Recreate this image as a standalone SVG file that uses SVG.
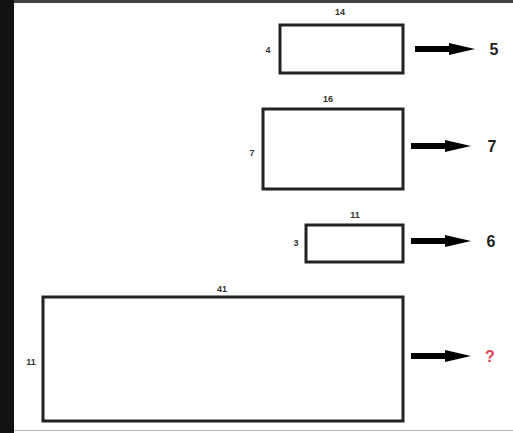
<svg xmlns="http://www.w3.org/2000/svg" width="513" height="433" viewBox="0 0 513 433">
<style>
.box{fill:#fff;stroke:#222;stroke-width:3}
.dim{font-family:"Liberation Sans",Arial,sans-serif;font-size:9px;font-weight:bold;fill:#333}
.res{font-family:"Liberation Sans",Arial,sans-serif;font-size:16px;font-weight:bold;fill:#222}
.shaft{stroke:#000;stroke-width:6}
</style>
<defs>
<g id="arr"><line class="shaft" x1="0" y1="0" x2="38" y2="0"/><polygon points="34,-6 60,0 34,6" fill="#000"/></g>
</defs>
<rect width="513" height="433" fill="#fff"/>
<rect x="0" y="0" width="14" height="433" fill="#111"/>
<rect x="14" y="0" width="499" height="3" fill="#444"/>
<rect x="14" y="430" width="499" height="1" fill="#bbb"/>
<g id="n1"><rect class="box" x="280" y="25" width="123" height="48"/><text class="dim" x="340" y="15" text-anchor="middle">14</text><text class="dim" x="268" y="53" text-anchor="middle">4</text></g>
<g id="n2"><rect class="box" x="263" y="109" width="140" height="80"/><text class="dim" x="328" y="102" text-anchor="middle">16</text><text class="dim" x="252" y="156" text-anchor="middle">7</text></g>
<g id="n3"><rect class="box" x="306" y="225" width="97" height="37"/><text class="dim" x="355" y="218" text-anchor="middle">11</text><text class="dim" x="296" y="246" text-anchor="middle">3</text></g>
<g id="n4"><rect class="box" x="43" y="297" width="360" height="124"/><text class="dim" x="222" y="292" text-anchor="middle">41</text><text class="dim" x="31" y="365" text-anchor="middle">11</text></g>
<g id="connectors">
<use href="#arr" x="415" y="49"/>
<use href="#arr" x="411" y="146"/>
<use href="#arr" x="411" y="241"/>
<use href="#arr" x="411" y="356"/>
</g>
<text class="res" x="494" y="55" text-anchor="middle">5</text>
<text class="res" x="492" y="152" text-anchor="middle">7</text>
<text class="res" x="491" y="247" text-anchor="middle">6</text>
<text class="res" x="490" y="362" text-anchor="middle" fill="#e0404a" style="fill:#e04050">?</text>
</svg>
